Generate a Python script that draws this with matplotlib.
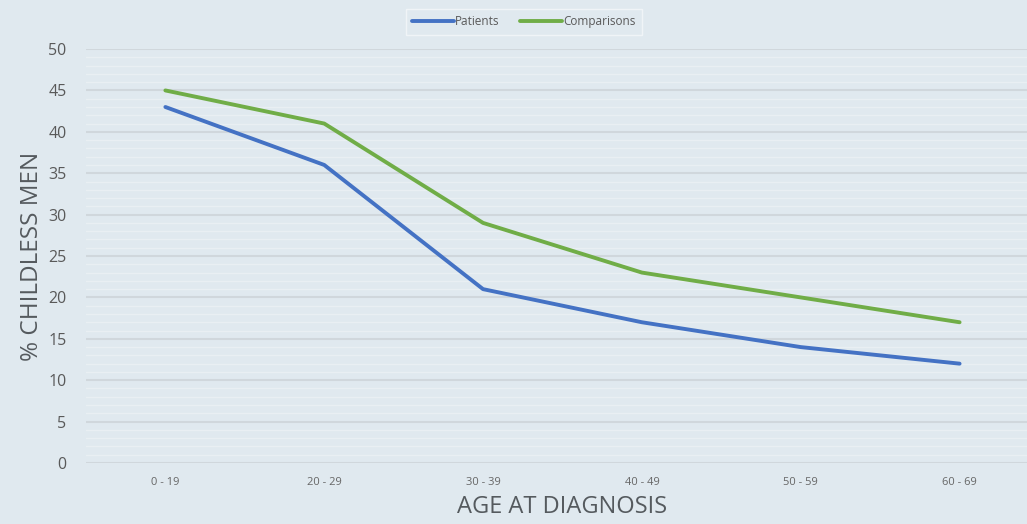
import matplotlib.pyplot as plt
import numpy as np

## Data:
age_groups = ['0 - 19', '20 - 29', '30 - 39', '40 - 49', '50 - 59', '60 - 69']
patients = [43, 36, 21, 17, 14, 12]
comparisons = [45, 41, 29, 23, 20, 17]

plt.rcParams['font.family'] = ['Open Sans', 'DejaVu Sans']

bg = '#e0e9ef'
fig = plt.figure(figsize=(10.27, 5.24), dpi=100, facecolor=bg)
ax = fig.add_axes([0.0837, 0.1164, 0.928, 0.790])
ax.set_facecolor(bg)

x = np.arange(len(age_groups))
ax.plot(x, patients, color='#4472c4', linewidth=2.8, label='Patients', solid_capstyle='round')
ax.plot(x, comparisons, color='#70ad47', linewidth=2.8, label='Comparisons', solid_capstyle='round')

ax.set_xlim(-0.5, len(age_groups) - 0.5)
ax.set_ylim(0, 50)
ax.set_xticks(x)
ax.set_xticklabels(age_groups, fontsize=8, color='#666666')
ax.set_yticks(np.arange(0, 51, 5))
ax.set_yticklabels([str(v) for v in range(0, 51, 5)], fontsize=11.5, color='#595959')
ax.set_yticks(np.arange(0, 50, 1), minor=True)
ax.tick_params(axis='both', which='both', length=0)
ax.tick_params(axis='x', pad=10)
ax.tick_params(axis='y', pad=14)

# striped horizontal grid
ax.grid(axis='y', which='minor', color='#e9eff3', linewidth=1.0)
ax.grid(axis='y', which='major', color='#d0d7dc', linewidth=1.5)
ax.set_axisbelow(True)
for s in ax.spines.values():
    s.set_visible(False)

ax.set_xlabel('AGE AT DIAGNOSIS', fontsize=17, color='#555a5e', labelpad=5)
ax.set_ylabel('% CHILDLESS MEN', fontsize=17.5, color='#555a5e', labelpad=3)

leg = fig.legend(loc='upper center', bbox_to_anchor=(0.51, 0.995), ncol=2, fontsize=8.5,
                 frameon=True, fancybox=False, handlelength=3.5, handletextpad=0.1,
                 columnspacing=1.8, borderpad=0.55)
leg.get_frame().set_facecolor(bg)
leg.get_frame().set_edgecolor('#f5f8fa')
for t in leg.get_texts():
    t.set_color('#595959')

fig.savefig('out.png', dpi=100, facecolor=bg)
